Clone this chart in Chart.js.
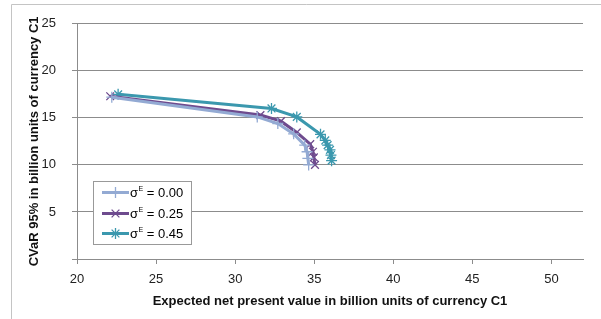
<!DOCTYPE html>
<html>
<head>
<meta charset="utf-8">
<script src="https://cdn.jsdelivr.net/npm/chart.js@4/dist/chart.umd.min.js"></script>
<style>
html,body{margin:0;padding:0;background:#fff;overflow:hidden;}
#wrap{position:relative;width:601px;height:319px;}
</style>
</head>
<body>
<div id="wrap"><canvas id="c" width="601" height="319"></canvas></div>
<script>
// Series labels (sigma^E values)
const sigmaValues = ['0.00', '0.25', '0.45'];
// Expected NPV (x) and CVaR 95% (y) for each series
const npv000  = [22.2, 31.4, 32.7, 33.7, 34.4, 34.55, 34.6, 34.65];
const cvar000 = [17.2, 15.1, 14.4, 13.3, 12.1, 11.4, 10.7, 10.0];
const npv025  = [22.1, 31.6, 32.9, 33.9, 34.75, 34.92, 34.98, 35.05];
const cvar025 = [17.3, 15.3, 14.65, 13.45, 12.2, 11.4, 10.8, 10.0];
const npv045  = [22.6, 32.3, 33.9, 35.4, 35.7, 35.85, 36.0, 36.06, 36.1];
const cvar045 = [17.5, 16.0, 15.1, 13.25, 12.6, 12.1, 11.6, 11.05, 10.45];
// Axis ticks
const xTicks = [20, 25, 30, 35, 40, 45, 50];
const yTicks = [5, 10, 15, 20, 25];
const xTitle = 'Expected net present value in billion units of currency C1';
const yTitle = 'CVaR 95% in billion units of currency C1';

function pts(xs, ys){ return xs.map((x,i)=>({x:x, y:ys[i]})); }

const colors = ['#93AAD3', '#6E4B8E', '#3B98AE'];
const styles = ['cross', 'crossRot', 'star'];

const datasets = [
  {label: sigmaValues[0], data: pts(npv000, cvar000)},
  {label: sigmaValues[1], data: pts(npv025, cvar025)},
  {label: sigmaValues[2], data: pts(npv045, cvar045)}
].map((d,i)=>Object.assign(d, {
  showLine: true, tension: 0,
  borderColor: colors[i], backgroundColor: colors[i],
  borderWidth: 3,
  pointStyle: styles[i], pointRadius: 5.5, pointBorderWidth: 1.3,
  pointBorderColor: colors[i], pointHoverRadius: 5.5
}));

const framePlugin = {
  id: 'frame',
  beforeDraw(chart){
    const ctx = chart.ctx;
    ctx.save();
    ctx.fillStyle = '#fff';
    ctx.fillRect(0,0,chart.width,chart.height);
    ctx.strokeStyle = '#c4c4c4';
    ctx.lineWidth = 1;
    ctx.beginPath();
    ctx.moveTo(11.5, 319); ctx.lineTo(11.5, 4.5); ctx.lineTo(601, 4.5);
    ctx.stroke();
    ctx.restore();
  }
};

function marker(ctx, style, color, x, y){
  ctx.save();
  ctx.strokeStyle = color;
  ctx.lineWidth = 1.3;
  const r = 5.5;
  ctx.beginPath();
  if (style === 'cross' || style === 'star'){
    ctx.moveTo(x, y - r); ctx.lineTo(x, y + r);
    ctx.moveTo(x - r, y); ctx.lineTo(x + r, y);
  }
  if (style === 'crossRot' || style === 'star'){
    const d = r * Math.SQRT1_2;
    ctx.moveTo(x - d, y - d); ctx.lineTo(x + d, y + d);
    ctx.moveTo(x - d, y + d); ctx.lineTo(x + d, y - d);
  }
  ctx.stroke();
  ctx.restore();
}

const legendPlugin = {
  id: 'boxLegend',
  afterDraw(chart){
    const ctx = chart.ctx;
    ctx.save();
    const bx = 93.5, by = 181.5, bw = 98, bh = 63;
    ctx.fillStyle = '#fff';
    ctx.fillRect(bx, by, bw, bh);
    ctx.strokeStyle = '#999';
    ctx.lineWidth = 1;
    ctx.strokeRect(bx, by, bw, bh);
    const rows = [192.5, 213.5, 233.5];
    chart.data.datasets.forEach((ds, i) => {
      const y = rows[i];
      ctx.strokeStyle = ds.borderColor;
      ctx.lineWidth = 3;
      ctx.beginPath(); ctx.moveTo(102, y); ctx.lineTo(129, y); ctx.stroke();
      marker(ctx, ds.pointStyle, ds.borderColor, 115.5, y);
      ctx.fillStyle = '#000';
      ctx.textBaseline = 'middle';
      ctx.textAlign = 'left';
      ctx.font = '13px "Liberation Sans", Arial, sans-serif';
      let x = 130;
      ctx.fillText('σ', x, y + 1);
      x += ctx.measureText('σ').width;
      ctx.font = '7px "Liberation Sans", Arial, sans-serif';
      ctx.fillText('E', x + 0.5, y - 3);
      x += ctx.measureText('E').width + 0.5;
      ctx.font = '13px "Liberation Sans", Arial, sans-serif';
      ctx.fillText(' = ' + ds.label, x, y + 1);
    });
    ctx.restore();
  }
};

new Chart(document.getElementById('c'), {
  type: 'scatter',
  data: {datasets: datasets},
  plugins: [framePlugin, legendPlugin],
  options: {
    responsive: false,
    animation: false,
    events: [],
    layout: {padding: {left: 20, top: 18, right: 18, bottom: 2}},
    plugins: {legend: {display: false}, tooltip: {enabled: false}},
    scales: {
      x: {
        type: 'linear', min: 20, max: 52,
        afterBuildTicks(s){ s.ticks = xTicks.map(v=>({value:v})); },
        afterFit(s){ s.height = 58; },
        grid: {drawOnChartArea: false, drawTicks: true, tickLength: 5, color: '#8c8c8c'},
        border: {display: true, color: '#8c8c8c', width: 1},
        ticks: {color: '#222', font: {family: '"Liberation Sans", Arial, sans-serif', size: 13}, padding: 8, maxRotation: 0},
        title: {display: true, text: xTitle, color: '#111',
          font: {family: '"Liberation Sans Narrow", "Liberation Sans", Arial, sans-serif', size: 13, weight: 'bold'},
          padding: {top: 0, bottom: 8}}
      },
      y: {
        type: 'linear', min: 0, max: 25,
        afterBuildTicks(s){ s.ticks = [0].concat(yTicks).map(v=>({value:v})); },
        afterFit(s){ s.width = 57; },
        grid: {drawOnChartArea: true, drawTicks: true, tickLength: 5, color: '#8c8c8c'},
        border: {display: true, color: '#8c8c8c', width: 1},
        ticks: {color: '#222', font: {family: '"Liberation Sans", Arial, sans-serif', size: 13}, padding: 16,
          callback: v => v === 0 ? '' : String(v)},
        title: {display: true, text: yTitle, color: '#111',
          font: {family: '"Liberation Sans Narrow", "Liberation Sans", Arial, sans-serif', size: 13, weight: 'bold'},
          padding: {top: 7, bottom: 0}}
      }
    }
  }
});
</script>
</body>
</html>
